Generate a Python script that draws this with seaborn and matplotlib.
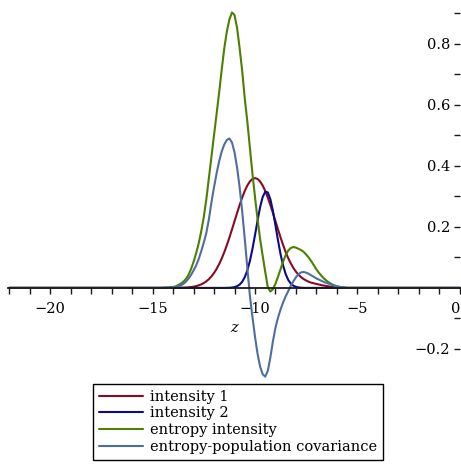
import matplotlib
matplotlib.use("Agg")
import matplotlib.pyplot as plt
import numpy as np
import pandas as pd
import seaborn as sns
from matplotlib.ticker import FixedLocator

# ---------------- data ----------------
z = [-22.0, -15.0, -14.75, -14.5, -14.25,
     -14.0, -13.875, -13.75, -13.625, -13.5, -13.375, -13.25, -13.125,
     -13.0, -12.875, -12.75, -12.625, -12.5, -12.375, -12.25, -12.125,
     -12.0, -11.875, -11.75, -11.625, -11.5, -11.375, -11.25, -11.125,
     -11.0, -10.875, -10.75, -10.625, -10.5, -10.375, -10.25, -10.125,
     -10.0, -9.875, -9.75, -9.625, -9.5, -9.375, -9.25, -9.125,
     -9.0, -8.875, -8.75, -8.625, -8.5, -8.375, -8.25, -8.125,
     -8.0, -7.875, -7.75, -7.625, -7.5, -7.375, -7.25, -7.125,
     -7.0, -6.875, -6.75, -6.625, -6.5, -6.375, -6.25, -6.125,
     -6.0, -5.75, -5.5, 0.0]

intensity_1 = [0, 0, 0, 0, 0.0001,
               0.0001, 0.0002, 0.0003, 0.0005, 0.0008, 0.0012, 0.0018, 0.0027,
               0.0040, 0.0058, 0.0082, 0.0115, 0.0158, 0.0215, 0.0287, 0.0377,
               0.0487, 0.0621, 0.0779, 0.0962, 0.1169, 0.1399, 0.1648, 0.1912,
               0.2184, 0.2455, 0.2717, 0.2961, 0.3177, 0.3356, 0.3489, 0.3572,
               0.36, 0.3572, 0.3489, 0.3356, 0.3177, 0.2961, 0.2717, 0.2455,
               0.2184, 0.1912, 0.1648, 0.1399, 0.1169, 0.097, 0.080, 0.065,
               0.053, 0.043, 0.035, 0.029, 0.024, 0.020, 0.017, 0.015,
               0.013, 0.011, 0.009, 0.0075, 0.006, 0.0045, 0.003, 0.002,
               0.0015, 0.0005, 0, 0]

intensity_2 = [0, 0, 0, 0, 0,
               0, 0, 0, 0, 0, 0, 0, 0,
               0, 0, 0, 0, 0, 0, 0, 0,
               0, 0, 0, 0, 0, 0.0002, 0.0005, 0.0012,
               0.0026, 0.0055, 0.0108, 0.0200, 0.0350, 0.0573, 0.0881, 0.1275,
               0.1731, 0.2209, 0.2648, 0.2982, 0.3154, 0.3132, 0.2907, 0.2521,
               0.2043, 0.1547, 0.1095, 0.0724, 0.0447, 0.0258, 0.0139, 0.0070,
               0.0033, 0.0015, 0.0006, 0.0002, 0, 0, 0, 0,
               0, 0, 0, 0, 0, 0, 0, 0,
               0, 0, 0, 0]

entropy_intensity = [0, 0, 0, 0.0003, 0.001,
                     0.003, 0.005, 0.009, 0.014, 0.020, 0.029, 0.042, 0.061,
                     0.085, 0.113, 0.145, 0.185, 0.232, 0.29, 0.36, 0.43,
                     0.50, 0.57, 0.64, 0.715, 0.785, 0.84, 0.88, 0.903,
                     0.895, 0.853, 0.786, 0.712, 0.622, 0.546, 0.46, 0.375,
                     0.298, 0.225, 0.16, 0.105, 0.052, 0.002, -0.012, -0.004,
                     0.014, 0.037, 0.062, 0.087, 0.108, 0.123, 0.131, 0.134,
                     0.132, 0.128, 0.124, 0.118, 0.109, 0.099, 0.087, 0.074,
                     0.060, 0.049, 0.039, 0.030, 0.023, 0.017, 0.012, 0.008,
                     0.005, 0.002, 0, 0]

covariance = [0, 0, 0, 0.0003, 0.001,
              0.002, 0.003, 0.005, 0.008, 0.013, 0.020, 0.030, 0.042,
              0.057, 0.073, 0.094, 0.12, 0.148, 0.18, 0.225, 0.28,
              0.33, 0.375, 0.415, 0.447, 0.47, 0.485, 0.49, 0.477,
              0.445, 0.395, 0.33, 0.251, 0.162, 0.066, -0.025, -0.095,
              -0.16, -0.216, -0.258, -0.283, -0.291, -0.272, -0.228, -0.175,
              -0.13, -0.097, -0.07, -0.047, -0.027, -0.01, 0.007, 0.022,
              0.035, 0.045, 0.051, 0.052, 0.05, 0.046, 0.041, 0.036,
              0.031, 0.027, 0.023, 0.019, 0.016, 0.013, 0.01, 0.007,
              0.005, 0.002, 0, 0]

series_names = ["intensity 1", "intensity 2", "entropy intensity",
                "entropy-population covariance"]
series_colors = ["#870C1F", "#0A0A8C", "#4C8000", "#4F6EA0"]

xtick_values = [-20, -15, -10, -5, 0]
xtick_labels = ["\u221220", "\u221215", "\u221210", "\u22125", "0"]
ytick_values = [-0.2, 0.2, 0.4, 0.6, 0.8]
ytick_labels = ["\u22120.2", "0.2", "0.4", "0.6", "0.8"]
ytick_minor = [-0.1, 0.1, 0.3, 0.5, 0.7, 0.9]

# ---------------- build long table ----------------
frames = []
for name, vals in zip(series_names,
                      [intensity_1, intensity_2, entropy_intensity, covariance]):
    frames.append(pd.DataFrame({"z": z, "value": vals, "series": name}))
df = pd.concat(frames, ignore_index=True)

# ---------------- figure ----------------
sns.set_theme(style="white")
plt.rcParams["font.family"] = ["DejaVu Serif"]
plt.rcParams["axes.unicode_minus"] = True
plt.rcParams["text.color"] = "black"

W, H = 461, 469
fig = plt.figure(figsize=(W / 100, H / 100), dpi=100)
ax = fig.add_axes([8 / W, 89 / H, 453 / W, 380 / H])

sns.lineplot(data=df, x="z", y="value", hue="series", hue_order=series_names,
             palette=dict(zip(series_names, series_colors)), linewidth=1.5,
             estimator=None, legend=False, ax=ax)

ax.set_xlim(-22.05, 0.05)
ax.set_ylim(-0.302, 0.944)

for s in ["top", "right"]:
    ax.spines[s].set_visible(False)
ax.spines["left"].set_position(("data", 0))
ax.spines["bottom"].set_position(("data", 0))
ax.spines["bottom"].set_linewidth(1.3)
ax.spines["bottom"].set_color("#1a1a1a")
ax.spines["left"].set_visible(False)

ax.set_xticks(xtick_values, labels=xtick_labels)
ax.xaxis.set_minor_locator(FixedLocator(list(range(-22, 1))))
ax.set_yticks(ytick_values, labels=ytick_labels)
ax.yaxis.set_minor_locator(FixedLocator(ytick_minor))

ax.tick_params(axis="x", which="both", bottom=True, direction="out", length=4,
               width=1, colors="#1a1a1a", labelcolor="black", labelsize=10.5, pad=6)
ax.tick_params(axis="y", which="both", left=True, direction="out", length=4,
               width=1, colors="#1a1a1a", labelcolor="black", labelsize=10.5, pad=3)
ax.get_xticklabels()[-1].set_horizontalalignment("right")

ax.set_xlabel("z", fontstyle="italic", fontsize=10.5, color="black")
ax.xaxis.set_label_coords(0.5, 0.156)
ax.set_ylabel("")

handles = ax.get_lines()[:4]
leg = ax.legend(handles, series_names, loc="upper left", mode="expand",
                bbox_to_anchor=(93 / W, 1 - 384 / H, 290 / W, 0.0),
                bbox_transform=fig.transFigure,
                frameon=True, fancybox=False, edgecolor="black", framealpha=1,
                borderaxespad=0, borderpad=0.4, handlelength=3.0,
                handletextpad=0.5, labelspacing=0.18, fontsize=10.5)
leg.get_frame().set_linewidth(1.0)

fig.savefig("out.png", dpi=100)
